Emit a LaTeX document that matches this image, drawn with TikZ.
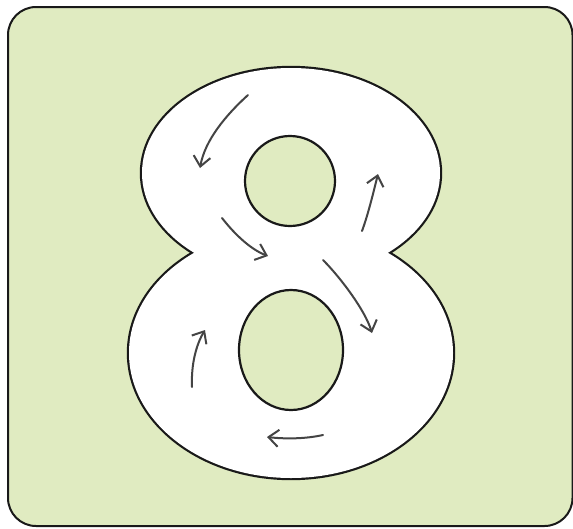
\documentclass[tikz,border=0pt]{standalone}
\usetikzlibrary{arrows.meta}
\definecolor{bggreen}{RGB}{224,235,193}
\definecolor{arrgray}{RGB}{68,68,68}
\tikzset{
  frame/.style={draw=black!90, line width=2pt, fill=bggreen, rounded corners=28pt},
  lobeout/.style={draw=black!90, line width=4.4pt},
  lobefill/.style={fill=white},
  hole/.style={draw=black!90, line width=2.2pt, fill=bggreen},
  flow/.style={draw=arrgray, line width=2pt, line cap=round,
    -{Straight Barb[length=10pt,width=17pt,line width=2pt]}},
}
\begin{document}
\begin{tikzpicture}[x=1pt,y=-1pt]
\useasboundingbox (0,0) rectangle (573,528);
\draw[frame] (8,7) rectangle (572.5,526);
% outer outline of the 8 (union of two lobes)
\path[lobeout] (291,173) ellipse[x radius=149, y radius=105];
\path[lobeout] (291,353) ellipse[x radius=162, y radius=125];
\path[lobefill] (291,173) ellipse[x radius=149, y radius=105];
\path[lobefill] (291,353) ellipse[x radius=162, y radius=125];
% holes
\path[hole] (290,181) circle[radius=45];
\path[hole] (291,350) ellipse[x radius=52, y radius=60];
% arrow end points
\coordinate (a1s) at (248,95);  \coordinate (a1e) at (200,168);
\coordinate (a2s) at (222,218); \coordinate (a2e) at (268,256);
\coordinate (a3s) at (323,260); \coordinate (a3e) at (372,333);
\coordinate (a4s) at (362,231); \coordinate (a4e) at (378,174);
\coordinate (a5s) at (323,435); \coordinate (a5e) at (267,437);
\coordinate (a6s) at (192,387); \coordinate (a6e) at (205,330);
\draw[flow] (a1s) .. controls (226,115) and (205,140) .. (a1e);
\draw[flow] (a2s) .. controls (236,236) and (252,250) .. (a2e);
\draw[flow] (a3s) .. controls (340,277) and (365,310) .. (a3e);
\draw[flow] (a4s) .. controls (368,215) and (374,190) .. (a4e);
\draw[flow] (a5s) .. controls (305,439) and (285,439) .. (a5e);
\draw[flow] (a6s) .. controls (191,365) and (196,345) .. (a6e);
\end{tikzpicture}
\end{document}
